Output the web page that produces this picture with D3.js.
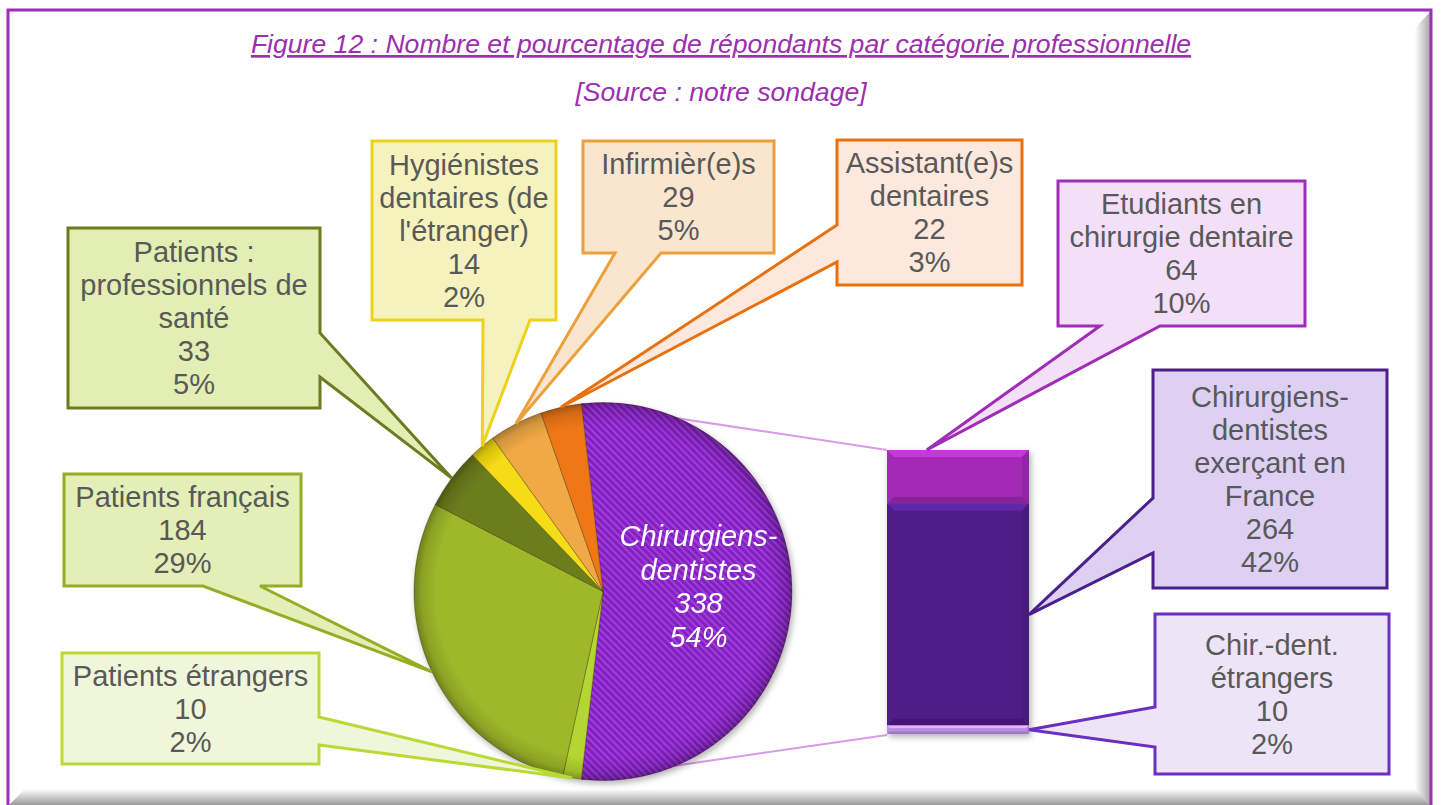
<!DOCTYPE html>
<html lang="fr">
<head>
<meta charset="UTF-8">
<title>Figure 12</title>
<style>
    body { margin: 0; background: #fff; }
    svg { display: block; font-family: "Liberation Sans", Arial, Helvetica, sans-serif; }
    .lbl { fill: #595959; font-size: 29px; }
</style>
</head>
<body>

<svg width="1443" height="805"></svg>

<script src="https://cdn.jsdelivr.net/npm/d3@7"></script>
<script>
    // pie categories, clockwise, starting with the group that is split in the bar
    var pieLabels = ["Chirurgiens-\ndentistes", "Patients étrangers", "Patients français",
        "Patients :\nprofessionnels de\nsanté", "Hygiénistes\ndentaires (de\nl'étranger)",
        "Infirmièr(e)s", "Assistant(e)s\ndentaires"];
    var pieValues = [338, 10, 184, 33, 14, 29, 22];

    // bar of pie, top to bottom
    var barLabels = ["Etudiants en\nchirurgie dentaire", "Chirurgiens-\ndentistes\nexerçant en\nFrance", "Chir.-dent.\nétrangers"];
    var barValues = [64, 264, 10];

    var titleText = "Figure 12 : Nombre et pourcentage de répondants par catégorie professionnelle";
    var sourceText = "[Source : notre sondage]";

    var pieColors = ["url(#stripes)", "#b3d631", "#9fb82a", "#6c7d1c", "#f4dc12", "#f1a945", "#ef7716"];
    var barColors = ["#a22bb6", "#4f1e88", "#bb90e2"];

    // callout boxes [x0, y0, x1, y1], side holding the pointer, pointer base
    var pieCallouts = [
        null,
        {box: [62, 653, 319, 764], side: "right", base: [717, 745], stroke: "#b9d934", fill: "#f0f6da"},
        {box: [64, 474, 301, 586], side: "bottom", base: [203, 260], stroke: "#94ad25", fill: "#e3efb6"},
        {box: [68, 228, 320, 408], side: "right", base: [333, 377], stroke: "#6b7b1f", fill: "#e2eeb3"},
        {box: [372, 141, 556, 320], side: "bottom", base: [483, 530], stroke: "#ecd21c", fill: "#f6f2bd"},
        {box: [583, 141, 774, 253], side: "bottom", base: [615, 661], stroke: "#eba03c", fill: "#fae6cf"},
        {box: [837, 140, 1022, 285], side: "left", base: [225, 262], stroke: "#e9700f", fill: "#fce8dc"}
    ];
    var barCallouts = [
        {box: [1058, 181, 1305, 326], side: "bottom", base: [1100, 1160], stroke: "#a02db5", fill: "#f3dff7"},
        {box: [1153, 370, 1387, 588], side: "left", base: [498, 553], stroke: "#4c1f8c", fill: "#ddd0f3"},
        {box: [1155, 614, 1389, 774], side: "left", base: [707, 747], stroke: "#6a2ec2", fill: "#ede4f8"}
    ];

    var svg = d3.select("svg");
    var defs = svg.append("defs");
    var total = d3.sum(pieValues);
    var pct = v => Math.round(v / total * 100) + "%";

    // ---- frame ----
    var gv = defs.append("linearGradient").attr("id", "bevelV").attr("x1", 0).attr("y1", 0).attr("x2", 0).attr("y2", 1);
    gv.append("stop").attr("offset", 0).attr("stop-color", "#ffffff");
    gv.append("stop").attr("offset", 1).attr("stop-color", "#9a9a9a");
    var gh = defs.append("linearGradient").attr("id", "bevelH").attr("x1", 0).attr("y1", 0).attr("x2", 1).attr("y2", 0);
    gh.append("stop").attr("offset", 0).attr("stop-color", "#ffffff");
    gh.append("stop").attr("offset", 1).attr("stop-color", "#a8a8a8");

    svg.append("polygon").attr("points", "1430,12 1430,805 1415,790 1415,28").attr("fill", "url(#bevelH)");
    svg.append("polygon").attr("points", "9,805 1430,805 1415,789 25,789").attr("fill", "url(#bevelV)");
    svg.append("path").attr("d", "M8,805V10H1431V805")
        .attr("fill", "none").attr("stroke", "#a02db8").attr("stroke-width", 3);

    // ---- titles ----
    svg.append("text").attr("x", 721).attr("y", 53).attr("text-anchor", "middle")
        .style("font-size", "26.6px").style("font-style", "italic").style("text-decoration", "underline")
        .attr("fill", "#9b2fae").text(titleText);
    svg.append("text").attr("x", 721).attr("y", 101).attr("text-anchor", "middle")
        .style("font-size", "26.6px").style("font-style", "italic")
        .attr("fill", "#9b2fae").text(sourceText);

    // ---- pie ----
    var cx = 603, cy = 591.5, r = 189;
    var share = pieValues[0] / total;
    var start = Math.PI / 2 - share * Math.PI;
    var pie = d3.pie().sort(null).startAngle(start).endAngle(start + 2 * Math.PI);
    var arcs = pie(pieValues);
    var arc = d3.arc().innerRadius(0).outerRadius(r);
    var pt = (a, rad) => [cx + rad * Math.sin(a), cy - rad * Math.cos(a)];

    var pat = defs.append("pattern").attr("id", "stripes").attr("patternUnits", "userSpaceOnUse")
        .attr("width", 5).attr("height", 5).attr("patternTransform", "rotate(-45)");
    pat.append("rect").attr("width", 5).attr("height", 5).attr("fill", "#7c22c6");
    pat.append("rect").attr("width", 2).attr("height", 5).attr("fill", "#a93ad2");

    var rg = defs.append("radialGradient").attr("id", "pieShade").attr("gradientUnits", "userSpaceOnUse")
        .attr("cx", cx).attr("cy", cy).attr("r", r);
    rg.append("stop").attr("offset", 0).attr("stop-color", "#000").attr("stop-opacity", 0);
    rg.append("stop").attr("offset", 0.88).attr("stop-color", "#000").attr("stop-opacity", 0);
    rg.append("stop").attr("offset", 0.96).attr("stop-color", "#000").attr("stop-opacity", 0.12);
    rg.append("stop").attr("offset", 1).attr("stop-color", "#000").attr("stop-opacity", 0.3);

    defs.append("filter").attr("id", "shadow").attr("x", "-20%").attr("y", "-20%").attr("width", "140%").attr("height", "140%")
        .append("feDropShadow").attr("dx", 2).attr("dy", 3).attr("stdDeviation", 3)
        .attr("flood-color", "#000").attr("flood-opacity", 0.3);

    // bar scale
    var barTotal = d3.sum(barValues);
    var barX = 887, barW = 142;
    var y = d3.scaleLinear().domain([0, barTotal]).range([734, 450]);
    var barSegs = [];
    var acc = barTotal;
    barValues.forEach(function (v, i) {
        barSegs.push({i: i, v: v, y0: y(acc), y1: y(acc - v)});
        acc -= v;
    });

    // lines pie -> bar, drawn behind the pie
    var pStart = pt(arcs[0].startAngle, r), pEnd = pt(arcs[0].endAngle, r);
    svg.append("line").attr("x1", pStart[0]).attr("y1", pStart[1]).attr("x2", barX).attr("y2", y(barTotal))
        .attr("stroke", "#d99be7").attr("stroke-width", 2);
    svg.append("line").attr("x1", pEnd[0]).attr("y1", pEnd[1]).attr("x2", barX).attr("y2", y(0) + 1)
        .attr("stroke", "#d99be7").attr("stroke-width", 2);

    var pg = svg.append("g").attr("transform", `translate(${cx},${cy})`).attr("filter", "url(#shadow)");
    pg.selectAll("path.slice").data(arcs).join("path")
        .attr("class", "slice")
        .attr("d", arc)
        .attr("fill", (d, i) => pieColors[i])
        .attr("stroke", "rgba(60,40,0,0.35)")
        .attr("stroke-width", 1);
    pg.append("circle").attr("r", r).attr("fill", "url(#pieShade)").attr("transform", `translate(${-cx},${-cy})`)
        .attr("cx", cx).attr("cy", cy);

    // label inside the big slice
    var c0 = arc.centroid(arcs[0]);
    var inner = pieLabels[0].split("\n").concat([pieValues[0], pct(pieValues[0])]);
    var it = pg.append("text").attr("text-anchor", "middle").attr("fill", "#fff")
        .style("font-size", "29px").style("font-style", "italic");
    inner.forEach(function (s, k) {
        it.append("tspan").attr("x", c0[0] + 1).attr("y", c0[1] + (k - (inner.length - 1) / 2) * 33.5 + 5).text(s);
    });

    // ---- bar ----
    var bg = svg.append("g").attr("filter", "url(#shadow)");
    barSegs.forEach(function (s) {
        var h = s.y1 - s.y0;
        var col = d3.color(barColors[s.i]);
        bg.append("rect").attr("x", barX).attr("y", s.y0).attr("width", barW).attr("height", h).attr("fill", col);
        var b = Math.min(7, h * 0.3);
        bg.append("path")
            .attr("d", `M${barX},${s.y0}H${barX + barW}L${barX + barW - b},${s.y0 + b}H${barX + b}Z`)
            .attr("fill", col.brighter(0.6));
        bg.append("path")
            .attr("d", `M${barX},${s.y1}H${barX + barW}L${barX + barW - b},${s.y1 - b}H${barX + b}Z`)
            .attr("fill", col.darker(0.5));
        bg.append("path")
            .attr("d", `M${barX + barW},${s.y0}V${s.y1}L${barX + barW - b},${s.y1 - b}V${s.y0 + b}Z`)
            .attr("fill", col.darker(0.3));
    });

    // ---- callouts ----
    function calloutPath(b, side, base, tip) {
        var x0 = b[0], y0 = b[1], x1 = b[2], y1 = b[3], p = base[0], q = base[1];
        var pts = [[x0, y0]];
        if (side === "top") pts.push([p, y0], tip, [q, y0]);
        pts.push([x1, y0]);
        if (side === "right") pts.push([x1, p], tip, [x1, q]);
        pts.push([x1, y1]);
        if (side === "bottom") pts.push([q, y1], tip, [p, y1]);
        pts.push([x0, y1]);
        if (side === "left") pts.push([x0, q], tip, [x0, p]);
        return "M" + pts.map(d => d.join(",")).join("L") + "Z";
    }

    function drawCallout(c, tip, lines) {
        var g = svg.append("g");
        g.append("path").attr("d", calloutPath(c.box, c.side, c.base, tip))
            .attr("fill", c.fill).attr("stroke", c.stroke).attr("stroke-width", 3)
            .attr("stroke-linejoin", "miter");
        var mx = (c.box[0] + c.box[2]) / 2, my = (c.box[1] + c.box[3]) / 2;
        var t = g.append("text").attr("class", "lbl").attr("text-anchor", "middle");
        lines.forEach(function (s, k) {
            t.append("tspan").attr("x", mx).attr("y", my + (k - (lines.length - 1) / 2) * 33 + 10).text(s);
        });
    }

    arcs.forEach(function (d, i) {
        if (!pieCallouts[i]) return;
        var tip = pt((d.startAngle + d.endAngle) / 2, r);
        drawCallout(pieCallouts[i], tip, pieLabels[i].split("\n").concat([pieValues[i], pct(pieValues[i])]));
    });

    barSegs.forEach(function (s) {
        var tip = s.i === 0 ? [barX + barW * 0.28, s.y0] : [barX + barW, (s.y0 + s.y1) / 2];
        drawCallout(barCallouts[s.i], tip, barLabels[s.i].split("\n").concat([s.v, pct(s.v)]));
    });
</script>
</body>
</html>
